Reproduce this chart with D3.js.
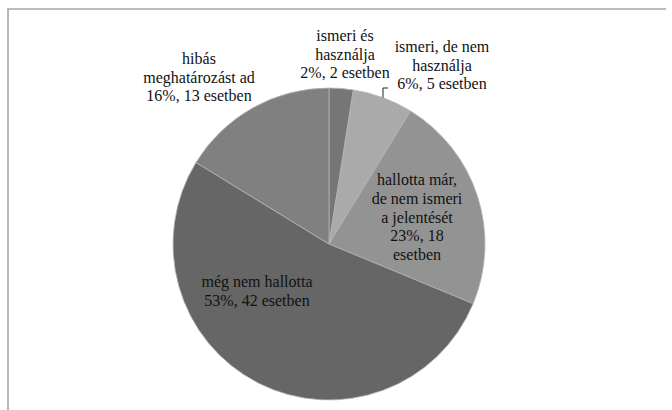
<!DOCTYPE html>
<html>
<head>
<meta charset="utf-8">
<script src="https://cdn.jsdelivr.net/npm/d3@7"></script>
<style>
  body { margin: 0; background: #fff; }
</style>
</head>
<body>
<svg id="chart"></svg>
<script>
// slices, clockwise from 12 o'clock
const categories = [
    ["ismeri és", "használja"],
    ["ismeri, de nem", "használja"],
    ["hallotta már,", "de nem ismeri", "a jelentését"],
    ["még nem hallotta"],
    ["hibás", "meghatározást ad"]
];
const counts = [2, 5, 18, 42, 13];
const percents = ["2%", "6%", "23%", "53%", "16%"];
const colors = ["#767676", "#aaaaaa", "#939393", "#666666", "#808080"];

// last text line for each slice (some labels wrap the count onto its own line)
const valueLines = [
    [`${percents[0]}, ${counts[0]} esetben`],
    [`${percents[1]}, ${counts[1]} esetben`],
    [`${percents[2]}, ${counts[2]}`, "esetben"],
    [`${percents[3]}, ${counts[3]} esetben`],
    [`${percents[4]}, ${counts[4]} esetben`]
];

const width = 672, height = 410;
const cx = 329, cy = 244, radius = 156;
const lineHeight = 18.7;
// label block centre relative to the pie centre
const labelOffsets = [[16, -190], [113, -179], [88, -27], [-72, 47], [-130, -167]];

const svg = d3.select("#chart")
    .attr("width", width)
    .attr("height", height);

// frame (only top and left edges are visible)
svg.append("path")
    .attr("d", `M8,${height} L8,9 L666,9`)
    .attr("fill", "none")
    .attr("stroke", "#a6a6a6")
    .attr("stroke-width", 1.6);

const g = svg.append("g")
    .attr("transform", `translate(${cx},${cy})`);

const pie = d3.pie().sort(null).value(d => d);
const arc = d3.arc().innerRadius(0).outerRadius(radius);
const arcs = pie(counts);

g.selectAll("path.slice")
    .data(arcs)
    .enter()
    .append("path")
    .attr("class", "slice")
    .attr("d", arc)
    .attr("fill", (d, i) => colors[i])
    .attr("stroke", "#b4b4b4")
    .attr("stroke-width", 0.8);

// leader line for the small "ismeri, de nem" slice
const mid = (arcs[1].startAngle + arcs[1].endAngle) / 2;
const ex = radius * Math.sin(mid), ey = -radius * Math.cos(mid);
const tickY = 88 - cy;
g.append("path")
    .attr("d", `M${ex},${ey} L${ex},${tickY} L${ex + 5},${tickY}`)
    .attr("fill", "none")
    .attr("stroke", "#222")
    .attr("stroke-width", 1);

// labels
arcs.forEach((d, i) => {
    const lines = categories[i].concat(valueLines[i]);
    const [ox, oy] = labelOffsets[i];
    const text = g.append("text")
        .attr("text-anchor", "middle")
        .attr("font-family", "'Liberation Serif', 'DejaVu Serif', 'Times New Roman', serif")
        .style("font-family", "'Liberation Serif', 'DejaVu Serif', 'Times New Roman', serif")
        .attr("font-size", 16)
        .attr("fill", "#111");
    lines.forEach((line, j) => {
        text.append("tspan")
            .attr("x", ox)
            .attr("y", oy + (j - (lines.length - 1) / 2) * lineHeight + 5.5)
            .text(line);
    });
});
</script>
</body>
</html>
